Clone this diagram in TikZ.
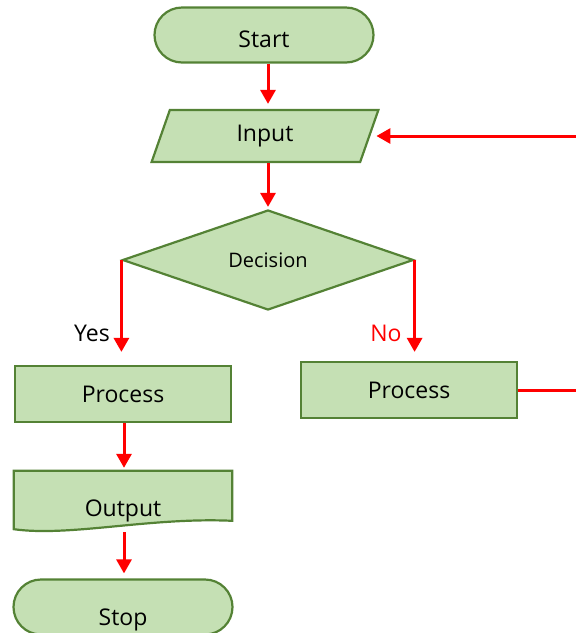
\documentclass[tikz,border=0pt]{standalone}
\usepackage{fontspec}
\setmainfont{Open Sans}
\usetikzlibrary{shapes.geometric, arrows.meta, backgrounds}
\definecolor{boxfill}{HTML}{C5E0B4}
\definecolor{boxline}{HTML}{548235}
\tikzset{
    term/.style={draw=boxline, fill=boxfill, line width=2.2pt, rounded corners=27.5pt, minimum width=219pt, minimum height=55pt},
    io/.style={draw=boxline, fill=boxfill, line width=2.2pt, trapezium, trapezium left angle=78, trapezium right angle=102, trapezium stretches=true, minimum width=227pt, minimum height=52pt},
    dec/.style={draw=boxline, fill=boxfill, line width=2.2pt, diamond, inner sep=0pt, minimum width=291pt, minimum height=100pt, font=\fontsize{20}{24}\selectfont},
    proc/.style={draw=boxline, fill=boxfill, line width=2.2pt, rectangle, minimum width=216pt, minimum height=56pt},
    flow/.style={draw=red, line width=3pt, -{Triangle[length=14pt,width=15pt]}}
}

\begin{document}
\begin{tikzpicture}[x=1pt, y=-1pt, font=\fontsize{23}{27}\selectfont]
    \useasboundingbox (0,0) rectangle (576,633);

    \node[term] (start) at (264,35) {\raisebox{-12pt}[0pt][0pt]{Start}};
    \node[io] (input) at (265,136) {Input};
    \node[dec] (dec) at (268,260) {Decision};
    \node[proc] (proc1) at (123,394) {Process};
    \node[proc] (proc2) at (409,390) {Process};
    \node[minimum width=218pt, minimum height=58pt] (output) at (123,500) {\raisebox{-16pt}[0pt][0pt]{Output}};
    \node[term] (stop) at (123,607) {\raisebox{-18pt}[0pt][0pt]{Stop}};
    \coordinate (loop) at (582,390);

    % document shape behind the output text
    \begin{scope}[on background layer]
        \draw[draw=boxline, fill=boxfill, line width=2.2pt] (output.north west) -- (output.north east) -- ++(0,50)
            .. controls (150,517) and (70,537) .. (output.south west) -- cycle;
    \end{scope}

    \node (yes) at (92,333) {Yes};
    \node[red] (no) at (386,333) {No};

    \draw[flow, shorten >=5pt] (start.south -| dec.north) -- (input.north -| dec.north);
    \draw[flow, shorten >=2pt] (input.south -| dec.north) -- (dec.north);
    \draw[flow, shorten >=13pt] (dec.west) -- (dec.west |- proc1.north);
    \draw[flow, shorten >=9pt] (dec.east) -- (dec.east |- proc2.north);
    \draw[flow, shorten >=3pt] (proc1.south -| 124,0) -- (output.north -| 124,0);
    \draw[flow, shorten <=3pt, shorten >=5pt] (output.south -| 124,0) -- (stop.north -| 124,0);
    \draw[flow, shorten >=6pt] (proc2.east) -- (loop) |- (input.east);
\end{tikzpicture}
\end{document}
